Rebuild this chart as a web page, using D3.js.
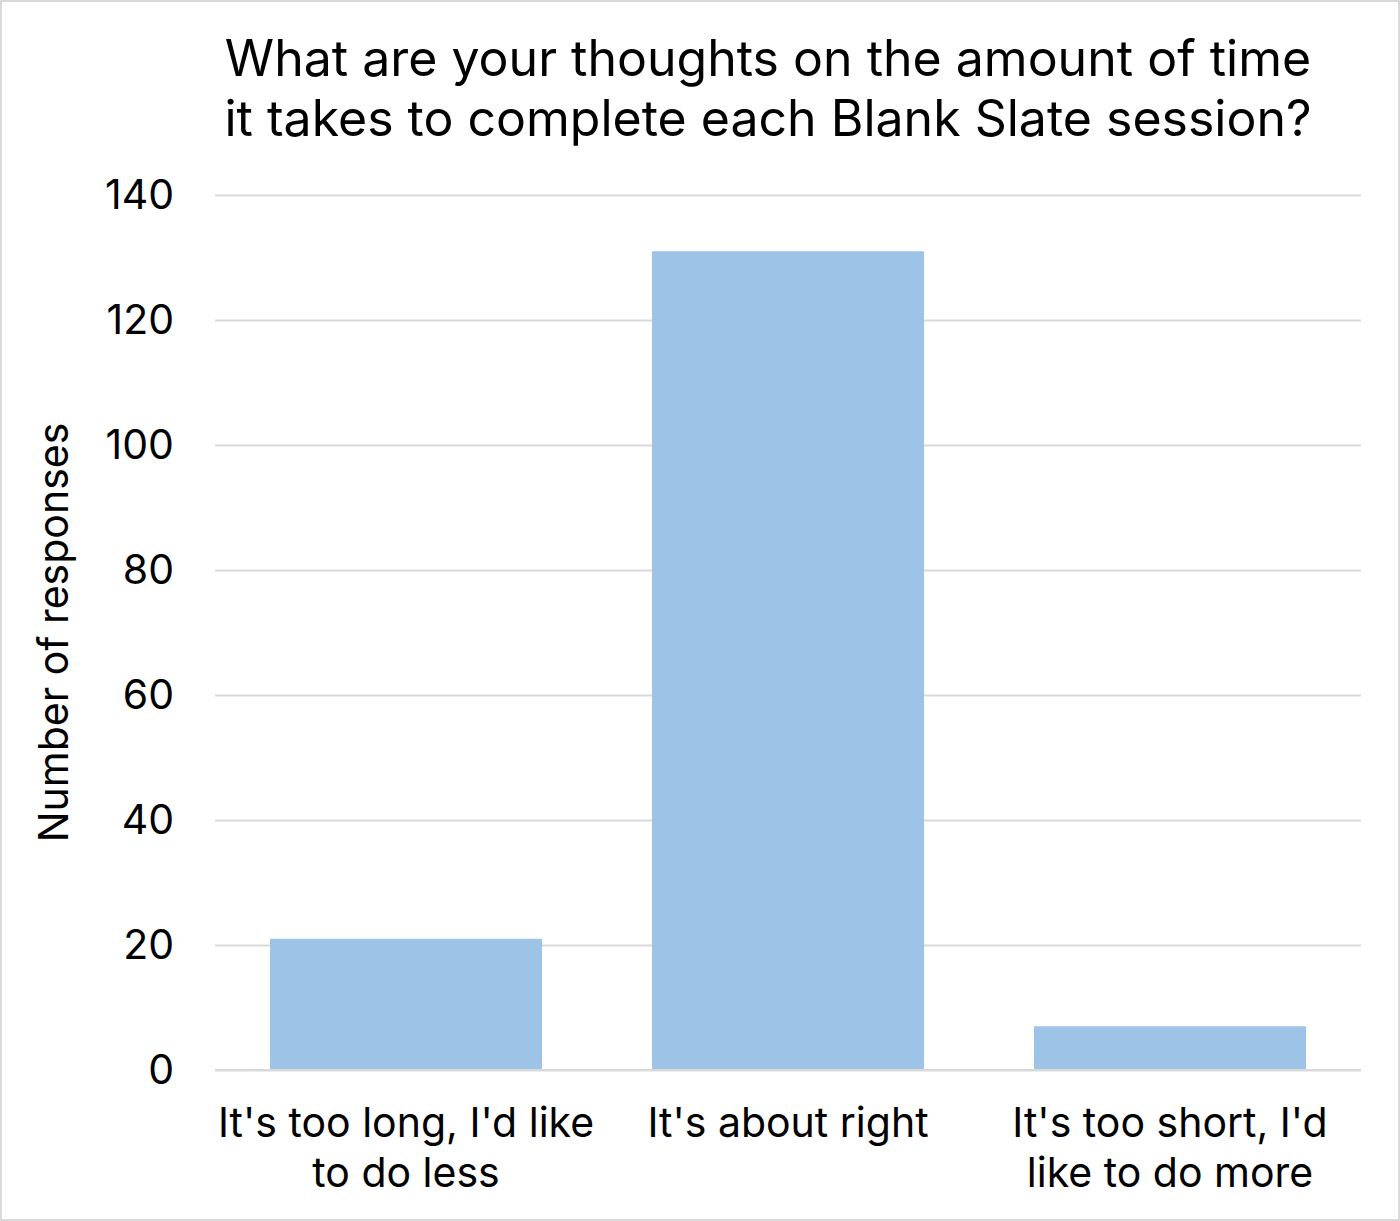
<!DOCTYPE html>
<html lang="en">
<head>
<meta charset="UTF-8">
<title>Blank Slate session time</title>
<style>
  html, body { margin: 0; padding: 0; background: #fff; }
  svg { display: block; font-family: Inter, "Noto Sans", sans-serif; }
</style>
</head>
<body>
<svg id="chart"></svg>
<script src="https://cdn.jsdelivr.net/npm/d3@7"></script>
<script>
// data
var categories = [["It's too long, I'd like", "to do less"], ["It's about right"], ["It's too short, I'd", "like to do more"]];
var responses = [21, 131, 7];
var yTicks = [0, 20, 40, 60, 80, 100, 120, 140];
var titleLines = ["What are your thoughts on the amount of time", "it takes to complete each Blank Slate session?"];
var yLabel = "Number of responses";

var width = 1400, height = 1221;
var plot = { left: 215, right: 1361, top: 195, bottom: 1070 };

var svg = d3.select("#chart").attr("width", width).attr("height", height);

// outer border
svg.append("rect")
    .attr("x", 1).attr("y", 1)
    .attr("width", width - 2).attr("height", height - 2)
    .attr("fill", "#fff")
    .attr("stroke", "#d9d9d9").attr("stroke-width", 2);

var x = d3.scaleBand()
    .domain(d3.range(categories.length))
    .range([plot.left, plot.right])
    .paddingInner(0.288)
    .paddingOuter(0.144);

var y = d3.scaleLinear()
    .domain([0, 140])
    .range([plot.bottom, plot.top]);

// gridlines + tick labels
var yAxis = d3.axisLeft(y).tickValues(yTicks).tickSize(-(plot.right - plot.left)).tickPadding(41);
var gy = svg.append("g")
    .attr("transform", "translate(" + plot.left + ",0)")
    .call(yAxis);
gy.select(".domain").remove();
gy.selectAll(".tick line").attr("stroke", "#d9d9d9").attr("stroke-width", 2);
gy.selectAll(".tick text")
    .attr("fill", "#000")
    .style("font-size", "41px")
    .style("font-family", "Inter, 'Noto Sans', sans-serif");

// bars
svg.append("g").selectAll("rect")
    .data(responses)
    .enter()
    .append("rect")
    .attr("x", function(d, i) { return x(i); })
    .attr("y", function(d) { return y(d); })
    .attr("width", x.bandwidth())
    .attr("height", function(d) { return y(0) - y(d); })
    .attr("fill", "#9dc3e6");

// baseline on top of bars
svg.append("line")
    .attr("x1", plot.left).attr("x2", plot.right)
    .attr("y1", y(0)).attr("y2", y(0))
    .attr("stroke", "#d9d9d9").attr("stroke-width", 2);

// category labels
var cat = svg.append("g").selectAll("text")
    .data(categories)
    .enter()
    .append("text")
    .attr("text-anchor", "middle")
    .attr("font-size", 41)
    .attr("fill", "#000")
    .attr("transform", function(d, i) { return "translate(" + (x(i) + x.bandwidth() / 2) + ",1137)"; });
cat.selectAll("tspan")
    .data(function(d) { return d; })
    .enter()
    .append("tspan")
    .attr("x", 0)
    .attr("y", function(d, i) { return i * 50; })
    .text(function(d) { return d; });

// title
svg.append("g").selectAll("text")
    .data(titleLines)
    .enter()
    .append("text")
    .attr("x", 768)
    .attr("y", function(d, i) { return 76 + i * 60; })
    .attr("text-anchor", "middle")
    .attr("font-size", 50)
    .attr("fill", "#000")
    .text(function(d) { return d; });

// y axis title
svg.append("text")
    .attr("transform", "translate(68," + ((plot.top + plot.bottom) / 2) + ") rotate(-90)")
    .attr("text-anchor", "middle")
    .attr("font-size", 41)
    .attr("fill", "#000")
    .text(yLabel);
</script>
</body>
</html>
